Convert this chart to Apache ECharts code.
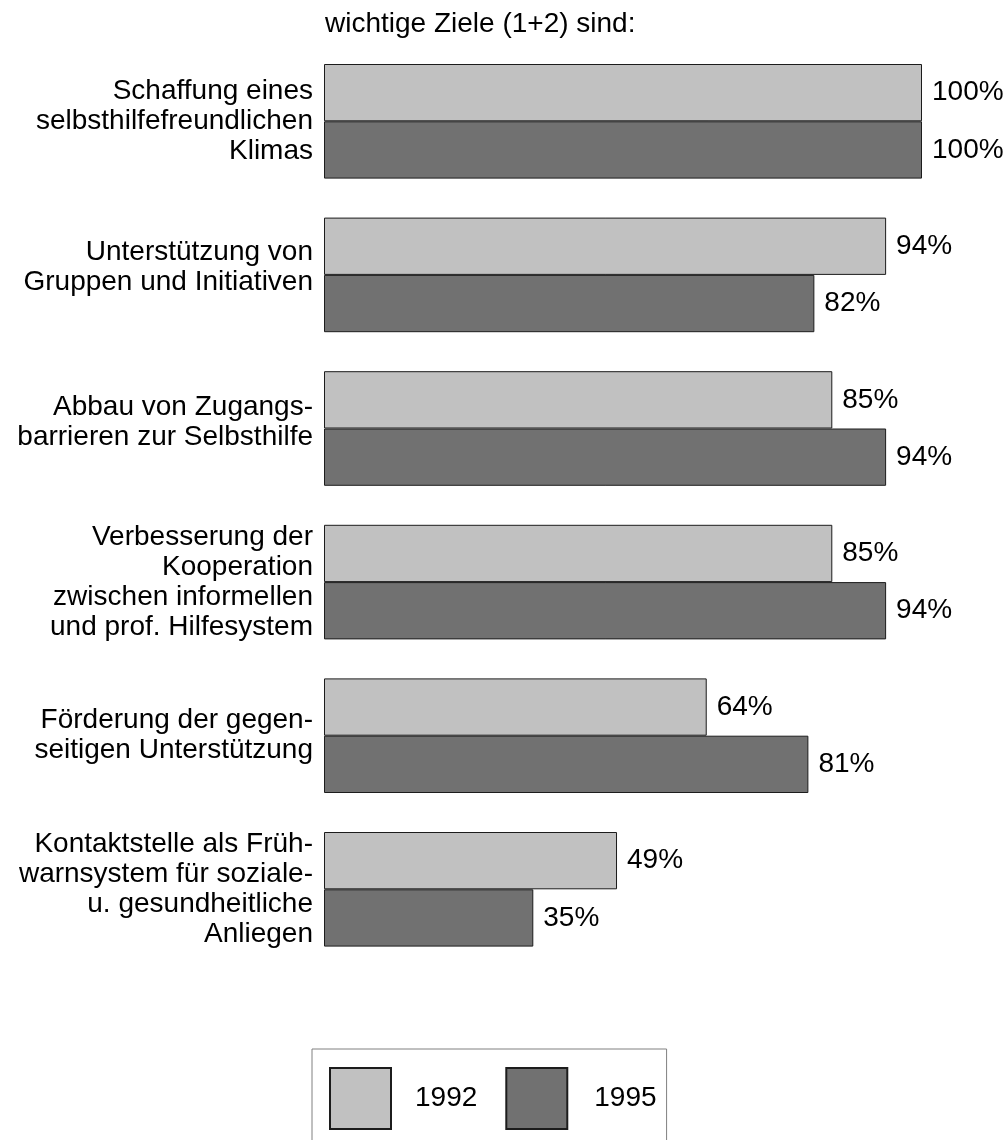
<!DOCTYPE html>
<html>
<head>
<meta charset="utf-8">
<script src="https://cdn.jsdelivr.net/npm/echarts@6/dist/echarts.min.js"></script>
<style>
html, body { margin: 0; padding: 0; background: #fff; }
#chart { width: 1008px; height: 1140px; }
</style>
</head>
<body>
<div id="chart"></div>
<script>
var categories = [
	"Schaffung eines\nselbsthilfefreundlichen\nKlimas",
	"Unterstützung von\nGruppen und Initiativen",
	"Abbau von Zugangs-\nbarrieren zur Selbsthilfe",
	"Verbesserung der\nKooperation\nzwischen informellen\nund prof. Hilfesystem",
	"Förderung der gegen-\nseitigen Unterstützung",
	"Kontaktstelle als Früh-\nwarnsystem für soziale-\nu. gesundheitliche\nAnliegen"
];
var values1992 = [100, 94, 85, 85, 64, 49];
var values1995 = [100, 82, 94, 94, 81, 35];
var seriesNames = ["1992", "1995"];

var fontFamily = '"Liberation Sans", Arial, sans-serif';
var theChart = echarts.init(document.getElementById("chart"));

// labels of the 2nd and 3rd group sit a little higher than the bar centre:
// an empty line of this height is added below them
var labelShift = [0, 15, 12, 0, 0, 0];

function makeSeries(name, data, color){
	return {
		name: name,
		type: 'bar',
		data: data,
		barWidth: 57.3,
		barGap: '0%',
		itemStyle: {
			color: color,
			borderColor: '#1c1c1c',
			borderWidth: 1
		},
		label: {
			show: true,
			position: 'right',
			distance: 10,
			formatter: '{c}%',
			color: '#000',
			fontSize: 28,
			fontFamily: fontFamily
		},
		emphasis: { disabled: true }
	};
}

var option = {
	animation: false,
	title: {
		text: "wichtige Ziele (1+2) sind:",
		left: 325,
		top: 9,
		padding: 0,
		textStyle: {
			color: '#000',
			fontSize: 28,
			lineHeight: 30,
			fontWeight: 'normal',
			fontFamily: fontFamily
		}
	},
	grid: {
		left: 324,
		right: 86,
		top: 44.5,
		height: 921.6
	},
	xAxis: {
		type: 'value',
		min: 0,
		max: 100,
		show: false
	},
	yAxis: {
		type: 'category',
		inverse: true,
		data: categories,
		axisLine: { show: false },
		axisTick: { show: false },
		splitLine: { show: false },
		axisLabel: {
			interval: 0,
			margin: 11,
			color: '#000',
			fontSize: 28,
			lineHeight: 30,
			align: 'right',
			fontFamily: fontFamily,
			formatter: function(value, index){
				var s = labelShift[index];
				if(s){
					return value + '\n{s' + s + '| }';
				}
				return value;
			},
			rich: {
				s15: { fontSize: 10, lineHeight: 15 },
				s12: { fontSize: 10, lineHeight: 12 }
			}
		}
	},
	legend: {
		data: [
			{ name: seriesNames[0] },
			{ name: seriesNames[1], textStyle: { padding: [0, 0, 0, 22] } }
		],
		left: 312,
		top: 1049,
		orient: 'horizontal',
		padding: [18, 10, 18, 17],
		itemWidth: 61,
		itemHeight: 61,
		itemGap: 28,
		icon: 'rect',
		borderColor: '#808080',
		borderWidth: 1,
		selectedMode: false,
		textStyle: {
			color: '#000',
			fontSize: 28,
			fontFamily: fontFamily,
			padding: [0, 0, 0, 19]
		}
	},
	series: [
		makeSeries(seriesNames[0], values1992, '#c1c1c1'),
		makeSeries(seriesNames[1], values1995, '#717171')
	]
};

theChart.setOption(option);
</script>
</body>
</html>
